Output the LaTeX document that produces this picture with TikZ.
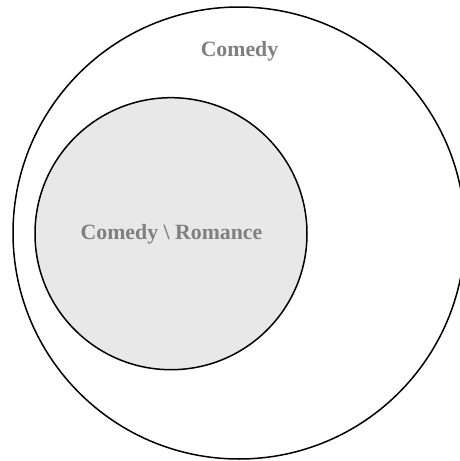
\documentclass[tikz,border=0pt]{standalone}
\usepackage{fontspec}
\setmainfont{Liberation Serif}
\definecolor{setfill}{HTML}{E8E8E8}
\definecolor{labelgray}{HTML}{808080}
\begin{document}
\begin{tikzpicture}[x=1pt,y=-1pt,
  setline/.style={draw=black,line width=1.5pt},
  setlabel/.style={text=labelgray,font=\fontsize{21.8}{26}\selectfont\bfseries,inner sep=0pt}]
\useasboundingbox (0,0) rectangle (460,461);
\begin{scope}
\clip (0,0) rectangle (460,461);
\draw[setline] (239,233) circle[radius=226];
\draw[setline,fill=setfill] (171,233.7) circle[radius=136];
\end{scope}
\node[setlabel] (outer) at (239.5,51) {Comedy};
\node[setlabel] (inner) at (171.5,234) {Comedy \textbackslash{} Romance};
\end{tikzpicture}
\end{document}
